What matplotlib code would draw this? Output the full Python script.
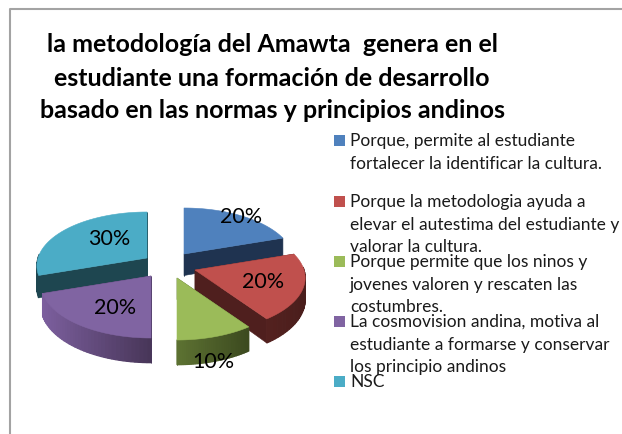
import numpy as np
import matplotlib
matplotlib.use('Agg')
import matplotlib.pyplot as plt
from matplotlib.colors import to_rgb

plt.rcParams['font.family'] = ['Lato', 'DejaVu Sans']

title_lines = ['la metodología del Amawta  genera en el',
               'estudiante una formación de desarrollo',
               'basado en las normas y principios andinos']
legend_lines = [['Porque, permite al estudiante', 'fortalecer la identificar la cultura.'],
                ['Porque la metodologia ayuda a', 'elevar el autestima del estudiante y', 'valorar la cultura.'],
                ['Porque permite que los ninos y', 'jovenes valoren y rescaten las', 'costumbres.'],
                ['La cosmovision andina, motiva al', 'estudiante a formarse y conservar', 'los principio andinos'],
                ['NSC']]
values = [20, 20, 10, 20, 30]
colors = ['#4f81bd', '#c0504d', '#9bbb59', '#8064a2', '#4bacc6']
side_left = ['#1f3350', '#54211f', '#5d7232', '#7c5f9e', '#1e4650']
side_right = ['#1f3350', '#4a1e1c', '#3c4a1f', '#483659', '#1e4650']
cut_color = ['#1f3350', '#4f1f1e', '#4a5a28', '#4a3860', '#1e4650']

# slice apex in pixels, how far each one was pulled out
apex = [(184, 255), (195, 271), (177, 279), (151, 277), (147, 259)]
label_pos = [(241, 217), (263, 282), (213, 362), (115, 308), (109, 239)]
legend_y = [141, 202, 262, 322, 382]

RX, RY, K, THICK = 109, 54, 0.148, 21.5


def project(theta, r=1.0):
    u = r * np.sin(theta)
    v = -r * np.cos(theta)
    s = 1 + K * v
    return RX * u * s, RY * v * s, s


def strip(ax, p1, p2, col, z):
    ax.fill([p1[0], p2[0], p2[0], p1[0]],
            [p1[1], p2[1], p2[1] + THICK * p2[2], p1[1] + THICK * p1[2]],
            facecolor=col, edgecolor=col, lw=0.9, zorder=z)


fig = plt.figure(figsize=(6.22, 4.35), dpi=100)
ax = fig.add_axes([0, 0, 1, 1])
ax.set_xlim(0, 622)
ax.set_ylim(435, 0)
ax.axis('off')

# chart frame, only top and left are visible in the crop
ax.plot([622, 10, 10], [10, 10, 435], color='#a3a3a3', lw=1.5, zorder=1)

ends = np.cumsum(values) / sum(values) * 2 * np.pi
starts = np.concatenate([[0], ends[:-1]])

# back to front
for z, i in enumerate([0, 4, 1, 3, 2]):
    cx, cy = apex[i]
    t = np.linspace(starts[i], ends[i], 40)
    x, y, s = project(t)
    px = cx + x
    py = cy + y
    base = 10 + z * 3

    # cut faces
    for a in (starts[i], ends[i]):
        ex, ey, es = project(a)
        ax.fill([cx, cx + ex, cx + ex, cx],
                [cy, cy + ey, cy + ey + THICK * es, cy + THICK],
                color=cut_color[i], lw=0.4, zorder=base)

    # outer wall, only the part facing the viewer
    c1 = np.array(to_rgb(side_left[i]))
    c2 = np.array(to_rgb(side_right[i]))
    for j in range(len(t) - 1):
        mid = (t[j] + t[j + 1]) / 2
        if np.cos(mid) > 0.05:
            continue
        f = (px[j] - px.min()) / max(px.max() - px.min(), 1)
        strip(ax, (px[j], py[j], s[j]), (px[j + 1], py[j + 1], s[j + 1]),
              tuple(c1 * (1 - f) + c2 * f), base + 1)

    # top face
    ax.fill(np.r_[cx, px], np.r_[cy, py], color=colors[i], lw=0.4, zorder=base + 2)

for pos, v in zip(label_pos, values):
    ax.text(pos[0], pos[1], f'{v}%', fontsize=15.5, color='black',
            ha='center', va='center', zorder=40)

title_y = [45, 78, 110]
title_x = [272.5, 272, 273]
for tx, ty, line in zip(title_x, title_y, title_lines):
    ax.text(tx, ty, line, fontsize=18, fontweight='bold', color='black',
            ha='center', va='center', zorder=40)

for ly, lines, col in zip(legend_y, legend_lines, colors):
    ax.fill([334, 345, 345, 334], [ly - 5.5, ly - 5.5, ly + 5.5, ly + 5.5], color=col, lw=0, zorder=30)
    for n, line in enumerate(lines):
        ax.text(350, ly + n * 22.6, line, fontsize=12.5, color='#1a1a1a',
                ha='left', va='center', zorder=40)

fig.savefig('out.png', dpi=100)
